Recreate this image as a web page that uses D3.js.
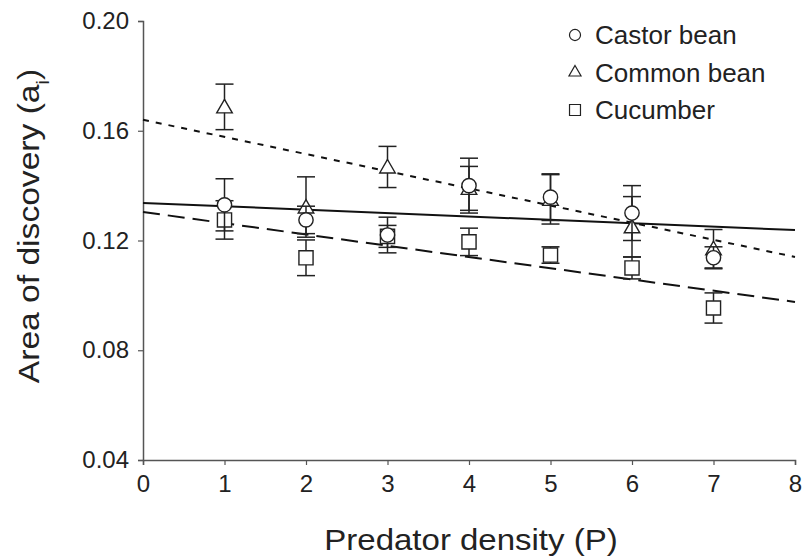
<!DOCTYPE html>
<html>
<head>
<meta charset="utf-8">
<script src="https://cdn.jsdelivr.net/npm/d3@7"></script>
<style>
  body { margin: 0; background: #fff; }
  svg { display: block; font-family: Arial, "Liberation Sans", sans-serif; }
</style>
</head>
<body>
<svg width="809" height="556"></svg>
<script>
// predator density levels
const density = [1, 2, 3, 4, 5, 6, 7]

// mean area of discovery and its error
const castorMean = [0.133, 0.1275, 0.122, 0.140, 0.1358, 0.130, 0.1137]
const castorErr = [0.0095, 0.005, 0.0065, 0.010, 0.0085, 0.010, 0.004]
const commonMean = [0.1687, 0.1322, 0.1468, 0.139, 0.135, 0.125, 0.117]
const commonErr = [0.0083, 0.011, 0.0075, 0.008, 0.009, 0.011, 0.007]
const cucumberMean = [0.1275, 0.1137, 0.1215, 0.1195, 0.1147, 0.110, 0.0954]
const cucumberErr = [0.007, 0.0065, 0.004, 0.005, 0.003, 0.004, 0.0055]

// fitted lines: value at P = 0 and P = 8
const castorFit = [0.1337, 0.1238]
const commonFit = [0.164, 0.114]
const cucumberFit = [0.1304, 0.0976]

const xTicks = [0, 1, 2, 3, 4, 5, 6, 7, 8]
const yTicks = [0.04, 0.08, 0.12, 0.16, 0.20]

const series = [
  { name: 'Castor bean', mean: castorMean, err: castorErr, fit: castorFit, shape: 'circle', dash: null },
  { name: 'Common bean', mean: commonMean, err: commonErr, fit: commonFit, shape: 'triangle', dash: '6,7' },
  { name: 'Cucumber', mean: cucumberMean, err: cucumberErr, fit: cucumberFit, shape: 'square', dash: '17,8' }
]

const margin = { top: 21, right: 14, bottom: 96, left: 143 }
const width = 809 - margin.left - margin.right
const height = 556 - margin.top - margin.bottom

const x = d3.scaleLinear().domain([0, 8]).range([0, width])
const y = d3.scaleLinear().domain([0.04, 0.20]).range([height, 0])

const svg = d3.select('svg')
const g = svg.append('g').attr('transform', `translate(${margin.left},${margin.top})`)

const axisColor = '#555'

// axes
const xAxis = g.append('g')
  .attr('transform', `translate(0,${height})`)
  .call(d3.axisBottom(x).tickValues(xTicks).tickSize(5).tickPadding(4).tickFormat(d3.format('d')))
const yAxis = g.append('g')
  .call(d3.axisLeft(y).tickValues(yTicks).tickSize(5).tickPadding(9).tickFormat(d3.format('.2f')))

;[xAxis, yAxis].forEach(a => {
  a.select('.domain').attr('stroke', axisColor).attr('stroke-width', 1.5)
  a.selectAll('.tick line').attr('stroke', axisColor).attr('stroke-width', 1.2)
  a.selectAll('.tick text').attr('fill', '#222').style('font-size', '24px')
})
xAxis.selectAll('.tick text').attr('dy', '0.95em')

// regression lines
series.forEach(s => {
  g.append('line')
    .attr('x1', x(0)).attr('y1', y(s.fit[0]))
    .attr('x2', x(8)).attr('y2', y(s.fit[1]))
    .attr('stroke', '#111')
    .attr('stroke-width', 2)
    .attr('stroke-dasharray', s.dash)
})

const symbolFor = shape => ({
  circle: d3.symbolCircle, triangle: d3.symbolTriangle, square: d3.symbolSquare
})[shape]
const sizeFor = { circle: 160, triangle: 105, square: 200 }

// error bars and markers; castor bean drawn last so it sits on top
;[series[2], series[1], series[0]].forEach(s => {
  const pts = density.map((d, i) => ({ p: d, m: s.mean[i], e: s.err[i] }))
  const eb = g.append('g').attr('stroke', '#222').attr('stroke-width', 1.5)
  pts.forEach(d => {
    eb.append('line').attr('x1', x(d.p)).attr('x2', x(d.p))
      .attr('y1', y(d.m - d.e)).attr('y2', y(d.m + d.e))
    ;[d.m - d.e, d.m + d.e].forEach(v => {
      eb.append('line').attr('x1', x(d.p) - 9).attr('x2', x(d.p) + 9)
        .attr('y1', y(v)).attr('y2', y(v))
    })
  })
  g.append('g').selectAll('path')
    .data(pts)
    .join('path')
    .attr('transform', d => `translate(${x(d.p)},${y(d.m) + (s.shape === 'triangle' ? 1.5 : 0)})`)
    .attr('d', d3.symbol().type(symbolFor(s.shape)).size(sizeFor[s.shape]))
    .attr('fill', '#fff')
    .attr('stroke', '#222')
    .attr('stroke-width', 1.4)
})

// legend
const legend = svg.append('g').attr('transform', 'translate(575,35)')
series.forEach((s, i) => {
  const row = legend.append('g').attr('transform', `translate(0,${i * 37.5})`)
  row.append('path')
    .attr('d', d3.symbol().type(symbolFor(s.shape)).size(sizeFor[s.shape] * 0.6))
    .attr('fill', '#fff').attr('stroke', '#222').attr('stroke-width', 1.2)
  row.append('text')
    .attr('x', 20).attr('y', 9)
    .style('font-size', '26px').attr('fill', '#222')
    .text(s.name)
})

// axis titles
svg.append('text')
  .attr('transform', 'translate(471,550) scale(1.1,1)')
  .attr('text-anchor', 'middle')
  .style('font-size', '30px').attr('fill', '#222')
  .text('Predator density (P)')

const yt = svg.append('text')
  .attr('transform', 'translate(39,226) rotate(-90) scale(1.12,1)')
  .attr('text-anchor', 'middle')
  .style('font-size', '30px').attr('fill', '#222')
yt.append('tspan').text('Area of discovery (a')
yt.append('tspan').attr('baseline-shift', 'sub').style('font-size', '18px').text('i')
yt.append('tspan').text(')')
</script>
</body>
</html>
